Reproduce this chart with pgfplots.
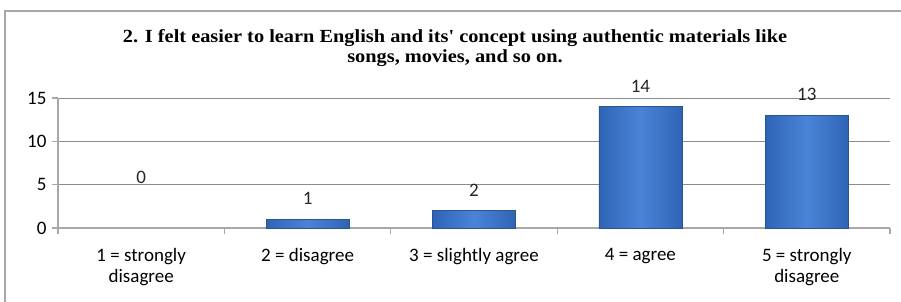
\documentclass[border=0pt]{standalone}
\usepackage{pgfplots}
\pgfplotsset{compat=1.18}
\usepackage{fontspec}
\setmainfont{Carlito}
\newfontfamily\titlefont{Liberation Serif}
\definecolor{bardark}{HTML}{2F64B4}
\definecolor{barmid}{HTML}{4A84D8}
\definecolor{barline}{HTML}{2A5593}
\definecolor{gridc}{HTML}{8C8C8C}
\definecolor{axisc}{HTML}{A8A8A8}
\definecolor{framec}{HTML}{A6A6A6}
\begin{document}
\begin{tikzpicture}
\useasboundingbox (0pt,0pt) rectangle (901pt,301pt);
\draw[framec, line width=1.5pt] (5pt,-10pt) -- (5pt,290pt) -- (920pt,290pt);
\node[font=\titlefont\bfseries\fontsize{18.5}{20}\selectfont, align=center, xscale=1.1] at (455pt,253pt) {2. I felt easier to learn English and its' concept using authentic materials like\\songs, movies, and so on.};
\begin{axis}[
  at={(58pt,73pt)}, anchor=south west,
  scale only axis, width=832pt, height=130pt,
  xmin=0.5, xmax=5.5, ymin=0, ymax=15,
  ytick={0,5,10,15},
  xtick={1,2,3,4,5},
  xticklabels={{1 = strongly\\disagree},{2 = disagree},{3 = slightly agree},{4 = agree},{5 = strongly\\disagree}},
  xticklabel style={align=center, font=\fontsize{19}{20.5}\selectfont, yshift=-11pt},
  yticklabel style={font=\fontsize{19}{20}\selectfont, xshift=-2pt},
  /pgf/number format/assume math mode=true,
  major x tick style={draw=none},
  minor xtick={0.5,1.5,2.5,3.5,4.5,5.5},
  minor tick length=6pt,
  major tick length=6pt,
  tick align=outside,
  tick style={axisc, line width=1.2pt},
  axis lines*=left,
  axis line style={axisc, line width=1.5pt},
  ymajorgrids,
  grid style={gridc, line width=1pt},
  clip=false,
  nodes near coords,
  nodes near coords style={font=\fontsize{19}{20}\selectfont, black!85, yshift=11pt},
]
\addplot[ybar, bar shift=0pt, bar width=83pt, draw=barline, left color=bardark, right color=bardark, middle color=barmid] coordinates {(2,1)};
\addplot[ybar, bar shift=0pt, bar width=83pt, draw=barline, left color=bardark, right color=bardark, middle color=barmid] coordinates {(3,2)};
\addplot[ybar, bar shift=0pt, bar width=83pt, draw=barline, left color=bardark, right color=bardark, middle color=barmid] coordinates {(4,14)};
\addplot[ybar, bar shift=0pt, bar width=83pt, draw=barline, left color=bardark, right color=bardark, middle color=barmid] coordinates {(5,13)};
\addplot[draw=none, mark=none, nodes near coords style={yshift=30pt}] coordinates {(1,0)};
\end{axis}
\end{tikzpicture}
\end{document}
